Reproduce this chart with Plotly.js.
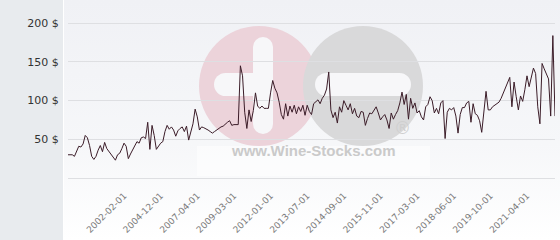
<!DOCTYPE html>
<html>
<head>
<meta charset="utf-8">
<script src="https://cdn.plot.ly/plotly-3.0.1.min.js"></script>
<style>
html,body{margin:0;padding:0;background:#ffffff;}
#chart{width:560px;height:240px;
background:
 linear-gradient(#e8ebee,#e8ebee) 0 0/63px 100% no-repeat,
 linear-gradient(#ffffff,#ffffff) 63px 0/1px 100% no-repeat,
 linear-gradient(to bottom,#f0f1f5 0%,#f6f7f9 60%,#ffffff 100%);}
</style>
</head>
<body>
<div id="chart"></div>
<script>
// Price series (one value per observation, left to right)
const prices = [
 30,30,30,28,35,41,40,44,55,52,42,28,24,28,36,42,34,46,38,34,30,27,23,30,32,38,45,41,25,31,36,42,47,45,52,53,51,72,37,68,55,37,41,45,47,
 60,68,63,66,62,54,61,64,66,60,67,49,59,70,89,79,62,66,65,64,62,60,58,60,62,65,66,67,70,72,74,68,69,69,69,145,132,85,64,88,73,87,110,93,90,
 93,90,90,90,110,126,116,110,98,82,76,96,80,93,85,94,83,92,86,94,81,94,86,82,96,98,101,96,103,107,115,137,88,78,85,71,92,85,100,94,88,96,83,90,
 80,78,86,85,68,77,84,83,88,92,84,75,79,82,75,64,84,76,82,87,97,111,95,108,76,103,90,97,84,87,79,75,92,95,105,100,84,90,83,97,100,51,85,90,88,
 91,80,58,82,91,91,97,99,72,96,83,81,74,59,82,112,88,88,92,94,96,98,103,110,116,122,130,92,124,105,88,106,99,114,132,118,130,142,135,92,70,148,141,135,128,80,184,80
];
const dateLabels = ['2002-02-01','2004-12-01','2007-04-01','2009-03-01','2012-01-01','2013-07-01',
 '2014-09-01','2015-11-01','2017-03-01','2018-06-01','2019-10-01','2021-04-01'];
const yTicks = [50,100,150,200];
const yTickText = yTicks.map(v => v + ' $');

const firstLabelIdx = 26, labelStep = 17;
const xIdx = prices.map((v,i)=>i);
const tickPos = dateLabels.map((d,k)=>firstLabelIdx + k*labelStep);

// watermark helpers (pixel -> paper)
const L=68, R=555, T=0, B=178;
const px = x => (x-L)/(R-L);
const py = y => (B-y)/(B-T);
function circ(x0,y0,x1,y1,color,opacity){
  return {type:'circle',xref:'paper',yref:'paper',x0:px(x0),x1:px(x1),y0:py(y1),y1:py(y0),
    fillcolor:color,opacity:opacity||1,line:{width:0},layer:'below'};
}
function rect(x0,y0,x1,y1,color,opacity){
  return {type:'rect',xref:'paper',yref:'paper',x0:px(x0),x1:px(x1),y0:py(y1),y1:py(y0),
    fillcolor:color,opacity:opacity||1,line:{width:0},layer:'below'};
}
function stadiumH(x0,x1,y0,y1,color){
  const r=(y1-y0)/2;
  return [rect(x0+r,y0,x1-r,y1,color),circ(x0,y0,x0+2*r,y1,color),circ(x1-2*r,y0,x1,y1,color)];
}
function stadiumV(x0,x1,y0,y1,color){
  const r=(x1-x0)/2;
  return [rect(x0,y0+r,x1,y1-r,color),circ(x0,y0,x1,y0+2*r,color),circ(x0,y1-2*r,x1,y1,color)];
}
const wm = '#f7f7f9';
const shapes = [].concat(
  [circ(199,26,319,146,'#ecd3da')],
  stadiumH(214,273,73,96,wm),
  stadiumV(253,273,37,134,wm),
  [circ(303,26,423,146,'#d9d9da')],
  stadiumH(315,411,73,96,wm),
  [rect(197,146,430,176,'#ffffff',0.55)]
);

const trace = {
  x: xIdx, y: prices, type:'scatter', mode:'lines',
  line:{color:'#3b1c28', width:1}, hoverinfo:'skip'
};

const layout = {
  width:560, height:240,
  margin:{l:68,r:5,t:0,b:62},
  paper_bgcolor:'rgba(0,0,0,0)', plot_bgcolor:'rgba(0,0,0,0)',
  showlegend:false,
  xaxis:{range:[0,prices.length-1], tickmode:'array', tickvals:tickPos, ticktext:dateLabels,
    tickangle:-45, showgrid:false, zeroline:false, showline:false,
    ticks:'outside', ticklen:8, tickcolor:'rgba(0,0,0,0)',
    tickfont:{family:'DejaVu Sans', size:9, color:'#7a7a7a'}},
  yaxis:{range:[0,230], tickmode:'array', tickvals:yTicks, ticktext:yTickText,
    showgrid:true, gridcolor:'#dedfe2', gridwidth:1,
    zeroline:true, zerolinecolor:'#dedfe2', zerolinewidth:1, showline:false,
    ticks:'outside', ticklen:6, tickcolor:'rgba(0,0,0,0)',
    tickfont:{family:'DejaVu Sans', size:11, color:'#333333'}},
  shapes: shapes,
  annotations:[
    {xref:'paper',yref:'paper',x:px(313),y:py(161),text:'<b>www.Wine-Stocks.com</b>',showarrow:false,
     font:{family:'Liberation Sans, Arial', size:15, color:'#cacaca'}},
    {xref:'paper',yref:'paper',x:px(413),y:py(140),text:'®',showarrow:false,
     font:{family:'DejaVu Sans', size:17, color:'#cfcfcf'}}
  ]
};
Plotly.newPlot('chart',[trace],layout,{displayModeBar:false,staticPlot:true});
</script>
</body>
</html>
